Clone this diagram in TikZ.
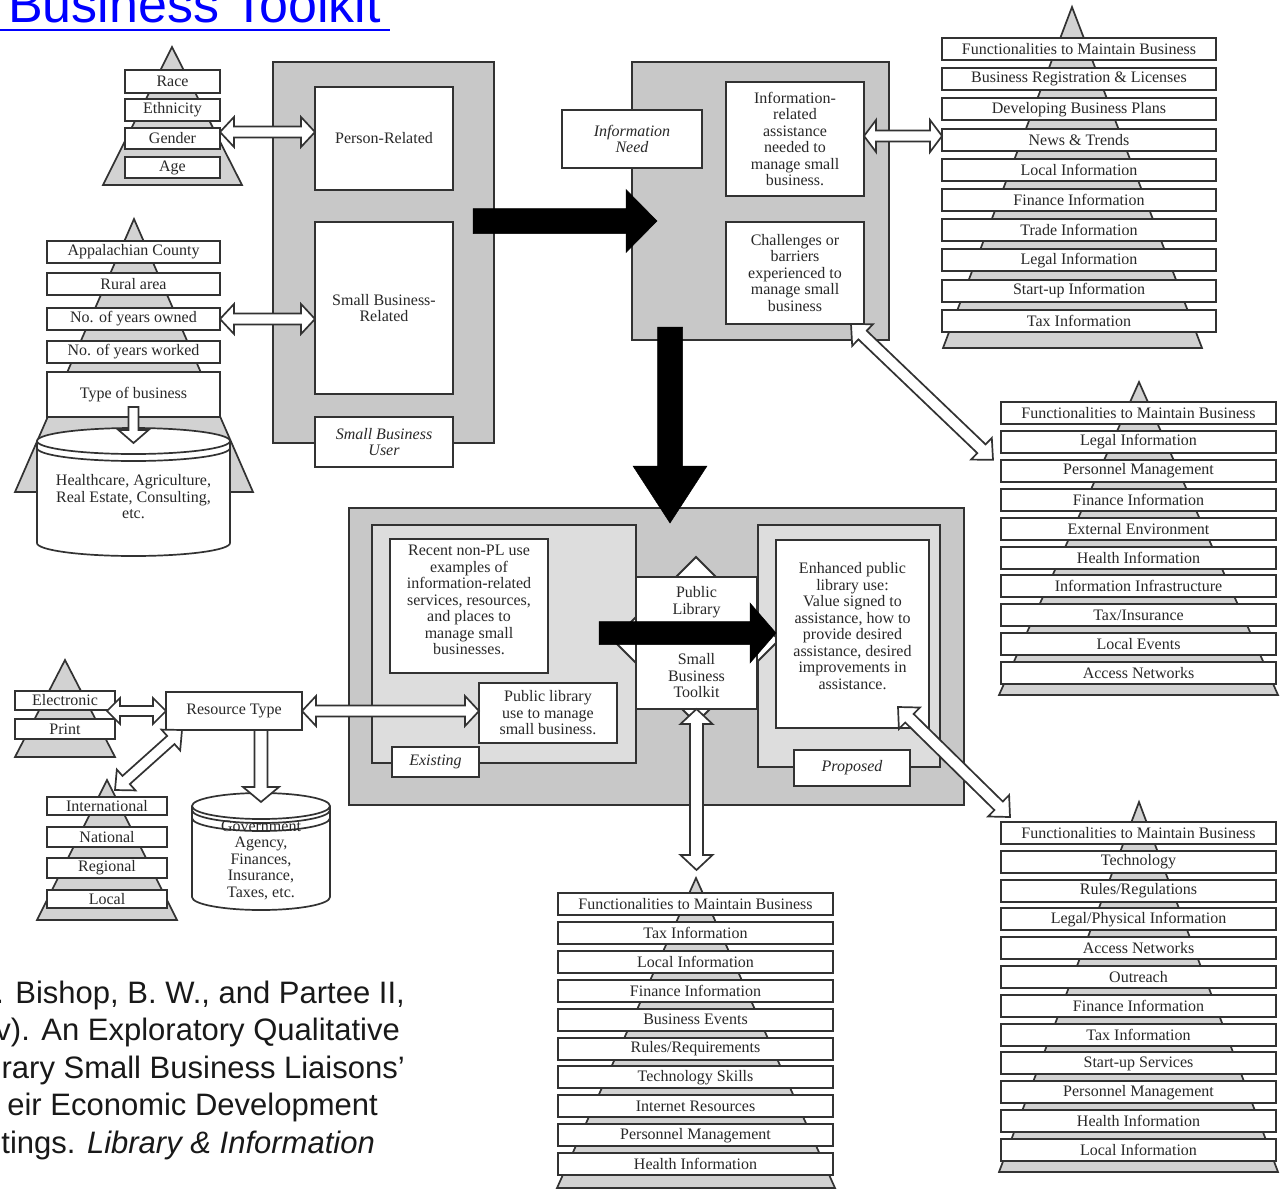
\documentclass[tikz,border=0pt]{standalone}
\usepackage{fontspec}
\setmainfont{Liberation Serif}
\newfontfamily\sansf{Liberation Sans}
\usetikzlibrary{calc}
\definecolor{ln}{RGB}{50,50,50}
\definecolor{gfill}{RGB}{200,200,200}
\definecolor{lfill}{RGB}{221,221,221}
\definecolor{tfill}{RGB}{210,210,210}
\definecolor{txtc}{RGB}{40,40,40}
\definecolor{ttl}{RGB}{0,0,255}
\definecolor{citc}{RGB}{25,25,25}
\newcommand\dfont{\fontsize{16}{16.5}\selectfont}
\tikzset{
 box/.style={draw=ln, line width=2pt, fill=white, align=center, inner sep=0pt, outer sep=0pt, text=txtc, font=\dfont},
 gbox/.style={box, fill=gfill},
 lbox/.style={box, fill=lfill},
 tri/.style={draw=ln, line width=1.7pt, fill=tfill, line join=miter},
 dia/.style={draw=ln, line width=2pt, fill=white},
 txt/.style={align=center, inner sep=0pt, text=txtc, font=\dfont},
 warr/.style={draw=ln, line width=1.7pt, fill=white, line join=miter},
 blk/.style={draw=black, fill=black, line width=0.5pt},
 cylst/.style={draw=ln, line width=1.7pt, fill=white},
 cit/.style={inner sep=0pt, text=citc, font=\sansf\fontsize{31}{37.6}\selectfont},
}
% box from corners
\newcommand\bx[6][]{\node[box,#1,minimum width={(#4)-(#2)},minimum height={(#5)-(#3)}] (#6) at ({((#2)+(#4))/2},{((#3)+(#5))/2})}
% double-headed block arrow: from, to, shaft half, head half, head length
\newcommand\dbl[6][]{%
\draw[warr,#1] let \p1=(#2),\p2=(#3),\n1={atan2(\y2-\y1,\x2-\x1)} in
 (\p1)
 -- ($(\p1)+(\n1:#6)+({\n1+90}:#5)$)
 -- ($(\p1)+(\n1:#6)+({\n1+90}:#4)$)
 -- ($(\p2)+({\n1+180}:#6)+({\n1+90}:#4)$)
 -- ($(\p2)+({\n1+180}:#6)+({\n1+90}:#5)$)
 -- (\p2)
 -- ($(\p2)+({\n1+180}:#6)+({\n1-90}:#5)$)
 -- ($(\p2)+({\n1+180}:#6)+({\n1-90}:#4)$)
 -- ($(\p1)+(\n1:#6)+({\n1-90}:#4)$)
 -- ($(\p1)+(\n1:#6)+({\n1-90}:#5)$)
 -- cycle;}
% single-headed block arrow
\newcommand\sgl[6][]{%
\draw[warr,#1] let \p1=(#2),\p2=(#3),\n1={atan2(\y2-\y1,\x2-\x1)} in
 ($(\p1)+({\n1+90}:#4)$)
 -- ($(\p2)+({\n1+180}:#6)+({\n1+90}:#4)$)
 -- ($(\p2)+({\n1+180}:#6)+({\n1+90}:#5)$)
 -- (\p2)
 -- ($(\p2)+({\n1+180}:#6)+({\n1-90}:#5)$)
 -- ($(\p2)+({\n1+180}:#6)+({\n1-90}:#4)$)
 -- ($(\p1)+({\n1-90}:#4)$)
 -- cycle;}
% cylinder: xl, xr, top centre y, bottom centre y, ry
\newcommand\cyl[5]{%
 \filldraw[cylst] (#1,#3) -- (#1,#4) arc[start angle=180,end angle=0,x radius={((#2)-(#1))/2},y radius=#5]
   -- (#2,#3) arc[start angle=0,end angle=-180,x radius={((#2)-(#1))/2},y radius=#5] -- cycle;
 \draw[cylst,fill=none] (#1,#3) arc[start angle=180,end angle=0,x radius={((#2)-(#1))/2},y radius=#5];}
\newcommand\cylarc[4]{\draw[cylst,fill=none] (#1,#3) arc[start angle=180,end angle=0,x radius={((#2)-(#1))/2},y radius=#4];}

\begin{document}
\begin{tikzpicture}[x=1pt,y=-1pt]
\useasboundingbox (0,0) rectangle (1282,1189);
\clip (0,0) rectangle (1282,1189);
\fill[white] (0,0) rectangle (1282,1189);

% ---------- title and citation ----------
\node[anchor=base west, inner sep=0pt, text=ttl, font=\sansf\fontsize{52}{60}\selectfont] (title) at (8,22) {Business Toolkit};
\draw[ttl, line width=2.5pt] (0,30) -- (390,30);
\node[cit, anchor=base east] (cit1) at (405,1003) {. Bishop, B. W., and Partee II,};
\node[cit, anchor=base east] (cit2) at (400,1040.6) {v). An Exploratory Qualitative};
\node[cit, anchor=base east] (cit3) at (405,1078.2) {rary Small Business Liaisons’};
\node[cit, anchor=base east] (cit4) at (378,1115.8) {eir Economic Development};
\node[cit, anchor=base east] (cit5) at (375,1153.4) {tings. \textit{Library \& Information}};

% ---------- person pyramid ----------
\filldraw[tri] (172,47) -- (242,185) -- (103,185) -- cycle;
\bx{125}{70}{220}{93}{race}{Race};
\bx{125}{99}{220}{121}{eth}{Ethnicity};
\bx{125}{128}{220}{149}{gender}{Gender};
\bx{125}{157}{220}{178}{age}{Age};

% ---------- business pyramid ----------
\filldraw[tri] (134,219) -- (253,492) -- (15,492) -- cycle;
\bx{47}{241}{220}{263}{app}{Appalachian County};
\bx{47}{273}{220}{295}{rural}{Rural area};
\bx{47}{308}{220}{330}{owned}{No. of years owned};
\bx{47}{341}{220}{363}{worked}{No. of years worked};
\bx{47}{372}{220}{417}{tob}{Type of business};
\cyl{37}{230}{441}{543}{13}
\cylarc{37}{230}{448}{13}
\node[txt] (hc) at (133.5,497) {Healthcare, Agriculture,\\Real Estate, Consulting,\\etc.};

% ---------- small business user ----------
\bx[gbox]{273}{62}{494}{443}{sbu}{};
\bx{315}{87}{453}{190}{person}{Person-Related};
\bx{315}{222}{453}{394}{sbr}{Small Business-\\Related};
\bx[font=\dfont\itshape]{315}{417}{453}{467}{sbul}{Small Business\\User};

% ---------- information need ----------
\bx[gbox]{632}{62}{889}{340}{inb}{};
\bx[font=\dfont\itshape]{562}{110}{702}{168}{inl}{Information\\Need};
\bx{726}{82}{864}{196}{info}{Information-\\related\\assistance\\needed to\\manage small\\business.};
\bx{726}{222}{864}{324}{chal}{Challenges or\\barriers\\experienced to\\manage small\\business};

% ---------- top right pyramid ----------
\filldraw[tri] (1072,7) -- (1202,348) -- (943,348) -- cycle;
\foreach \t [count=\i from 0] in {Functionalities to Maintain Business, Business Registration \& Licenses, Developing Business Plans, News \& Trends, Local Information, Finance Information, Trade Information, Legal Information, Start-up Information, Tax Information}
  {\bx{942}{38+30.2*\i}{1216}{60+30.2*\i}{tr\i}{\t};}

% ---------- right middle pyramid ----------
\filldraw[tri] (1139,382) -- (1278,695) -- (999,695) -- cycle;
\foreach \t [count=\i from 0] in {Functionalities to Maintain Business, Legal Information, Personnel Management, Finance Information, External Environment, Health Information, Information Infrastructure, Tax/Insurance, Local Events, Access Networks}
  {\bx{1001}{402+28.9*\i}{1276}{424+28.9*\i}{rm\i}{\t};}

% ---------- public library ----------
\bx[gbox]{349}{508}{964}{805}{pl}{};
\bx[lbox]{372}{525}{636}{763}{exist}{};
\bx[lbox]{758}{525}{940}{767}{prop}{};
\filldraw[dia] (696,557) -- (779,640) -- (696,723) -- (613,640) -- cycle;
\bx{636}{577}{757}{709}{sbt}{};
\node[txt] (plib) at (696.5,602) {Public\\Library};
\node[txt] (sbtk) at (696.5,676) {Small\\Business\\Toolkit};
\bx{390}{539}{548}{673}{recent}{};
\node[txt] (recentt) at (469,600) {Recent non-PL use\\examples of\\information-related\\services, resources,\\and places to\\manage small\\businesses.};
\bx{479}{683}{617}{743}{plu}{Public library\\use to manage\\small business.};
\bx[font=\dfont\itshape]{392}{747}{479}{777}{existl}{Existing};
\bx{776}{540}{929}{728}{enh}{};
\node[txt] (enht) at (852.5,626) {Enhanced public\\library use:\\Value signed to\\assistance, how to\\provide desired\\assistance, desired\\improvements in\\assistance.};
\bx[font=\dfont\itshape]{794}{750}{910}{786}{propl}{Proposed};

% ---------- resources ----------
\filldraw[tri] (65,660) -- (115,757) -- (15,757) -- cycle;
\bx{15}{691}{115}{710}{elec}{Electronic};
\bx{15}{719}{115}{739}{print}{Print};
\bx{166}{692}{302}{730}{res}{Resource Type};
\filldraw[tri] (107,780) -- (177,920) -- (37,920) -- cycle;
\bx{47}{797}{167}{815}{intl}{International};
\bx{47}{827}{167}{847}{natl}{National};
\bx{47}{858}{167}{878}{regl}{Regional};
\bx{47}{890}{167}{908}{locl}{Local};
\cyl{192}{330}{806}{897}{13}
\cylarc{192}{330}{810}{13}
\cylarc{192}{330}{818}{13}
\node[txt] (gov) at (261,860) {Government\\Agency,\\Finances,\\Insurance,\\Taxes, etc.};

% ---------- bottom centre pyramid ----------
\filldraw[tri] (696,878) -- (835,1188) -- (557,1188) -- cycle;
\foreach \t [count=\i from 0] in {Functionalities to Maintain Business, Tax Information, Local Information, Finance Information, Business Events, Rules/Requirements, Technology Skills, Internet Resources, Personnel Management, Health Information}
  {\bx{558}{893+28.9*\i}{833}{915+28.9*\i}{bc\i}{\t};}

% ---------- bottom right pyramid ----------
\filldraw[tri] (1139,802) -- (1278,1172) -- (999,1172) -- cycle;
\foreach \t [count=\i from 0] in {Functionalities to Maintain Business, Technology, Rules/Regulations, Legal/Physical Information, Access Networks, Outreach, Finance Information, Tax Information, Start-up Services, Personnel Management, Health Information, Local Information}
  {\bx{1001}{822+28.8*\i}{1276}{844+28.8*\i}{br\i}{\t};}

% ---------- black arrows ----------
\coordinate (k1) at (473,221); \coordinate (k2) at (657,221);
\sgl[blk]{k1}{k2}{12.5pt}{31.5pt}{31pt}
\coordinate (k3) at (670,327); \coordinate (k4) at (670,523);
\sgl[blk]{k3}{k4}{12.5pt}{37pt}{57pt}
\coordinate (k5) at (599,633); \coordinate (k6) at (776,633);
\sgl[blk]{k5}{k6}{11.5pt}{30pt}{26pt}

% ---------- white arrows ----------
\coordinate (g1) at ([yshift=6.5pt]gender.east);
\coordinate (g2) at (g1 -| person.west);
\dbl{g1}{g2}{5.5pt}{15pt}{14pt}
\coordinate (o1) at (owned.east);
\coordinate (o2) at (o1 -| sbr.west);
\dbl{o1}{o2}{5.5pt}{15pt}{14pt}
\coordinate (t1) at ([yshift=10pt]tob.south);
\coordinate (t2) at (133.5,443);
\sgl{t1}{t2}{5pt}{15pt}{13pt}
\coordinate (i1) at ([yshift=3pt]info.east);
\coordinate (i2) at (i1 -| tr0.west);
\dbl{i1}{i2}{5.5pt}{16pt}{12pt}
\coordinate (c1) at ([xshift=-13pt]chal.south east);
\coordinate (c2) at ([xshift=-8pt]rm2.north west);
\dbl{c1}{c2}{6pt}{15pt}{16pt}
\coordinate (e0) at (res.west -| elec.east);
\coordinate (e1) at ([xshift=-8pt]e0);
\dbl{e1}{res.west}{5pt}{13pt}{13pt}
\coordinate (ri1) at ([xshift=16pt]res.south west);
\coordinate (ri2) at ([xshift=8pt,yshift=7pt]intl.north);
\dbl{ri1}{ri2}{5.5pt}{14pt}{15pt}
\coordinate (govtop) at (261,802);
\coordinate (rg1) at (res.south -| govtop);
\sgl{rg1}{govtop}{6.5pt}{18pt}{15pt}
\coordinate (rp2) at (res.east -| plu.west);
\dbl{res.east}{rp2}{5.5pt}{15pt}{14pt}
\coordinate (sb2) at (696.5,870);
\dbl{sbt.south}{sb2}{6.5pt}{16pt}{15pt}
\coordinate (en1) at ([xshift=-31pt,yshift=21pt]enh.south east);
\coordinate (en2) at ([xshift=9pt,yshift=5pt]br0.north west);
\dbl{en1}{en2}{6pt}{15pt}{16pt}
\end{tikzpicture}
\end{document}
